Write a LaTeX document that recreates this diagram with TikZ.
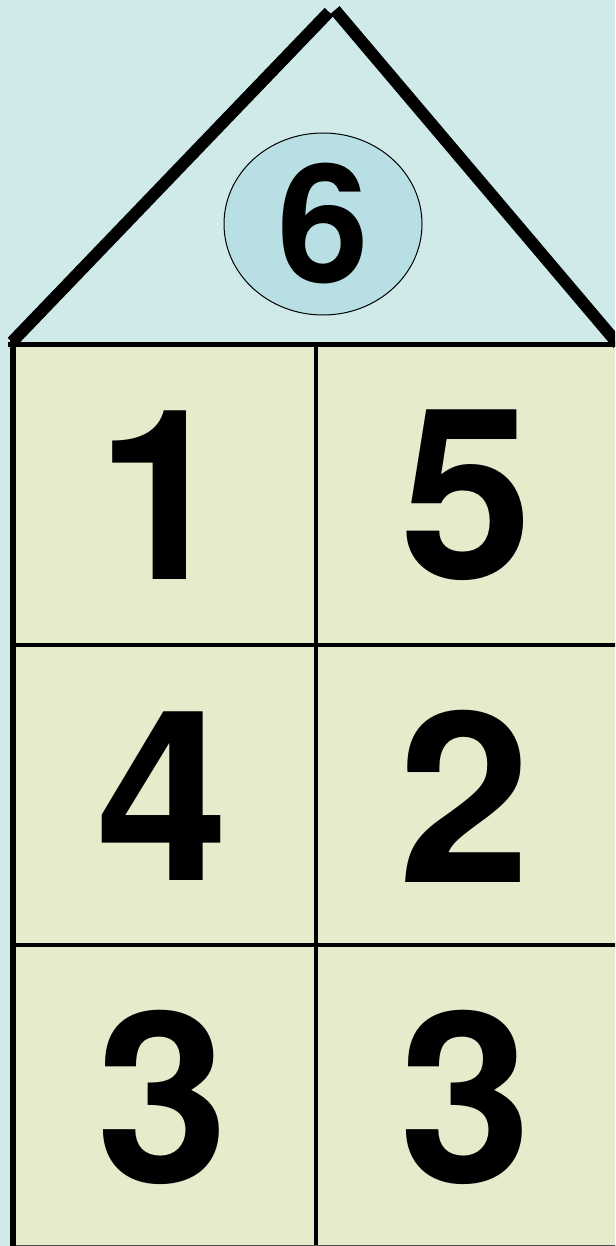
\documentclass[tikz,border=0pt]{standalone}
\usepackage{fontspec}
\setmainfont{TeX Gyre Heros}
\usetikzlibrary{shapes.geometric}
\definecolor{bg}{HTML}{D0EAEA}
\definecolor{wall}{HTML}{E6EBCB}
\definecolor{ballfill}{HTML}{B8E0E4}
\begin{document}
\begin{tikzpicture}[x=1pt,y=-1pt,
  digit/.style={font=\fontsize{238}{238}\selectfont\bfseries, inner sep=0pt},
  balldigit/.style={font=\fontsize{165}{165}\selectfont\bfseries},
  roofline/.style={line width=12pt},
  gridline/.style={line width=3.5pt}]
\useasboundingbox (0,0) rectangle (615,1246);
\fill[bg] (0,0) rectangle (615,1246);
\begin{scope}
\clip (0,0) rectangle (615,1246);
\fill[wall] (13,345) rectangle (620,1250);
\draw[gridline] (316,345) -- (316,1250);
\draw[gridline] (13,645) -- (620,645);
\draw[gridline] (13,945) -- (620,945);
\draw[line width=1pt, black!70] (13,1245.5) -- (620,1245.5);
\draw[line width=5pt] (8,344.5) -- (620,344.5);
\draw[line width=6pt] (13,340) -- (13,1250);
\draw[roofline] (12,342) -- (329,12);
\draw[roofline] (335,10) -- (618,344);
\end{scope}
\node[ellipse, draw, line width=1pt, fill=ballfill, minimum width=198pt, minimum height=182pt, inner sep=0pt, balldigit] (ball) at (323,224) {6};
\node[digit] (c11) at (163,495) {1};
\node[digit] (c12) at (467,495) {5};
\node[digit] (c21) at (163,796) {4};
\node[digit] (c22) at (465,796) {2};
\node[digit] (c31) at (163,1097) {3};
\node[digit] (c32) at (466,1097) {3};
\end{tikzpicture}
\end{document}
